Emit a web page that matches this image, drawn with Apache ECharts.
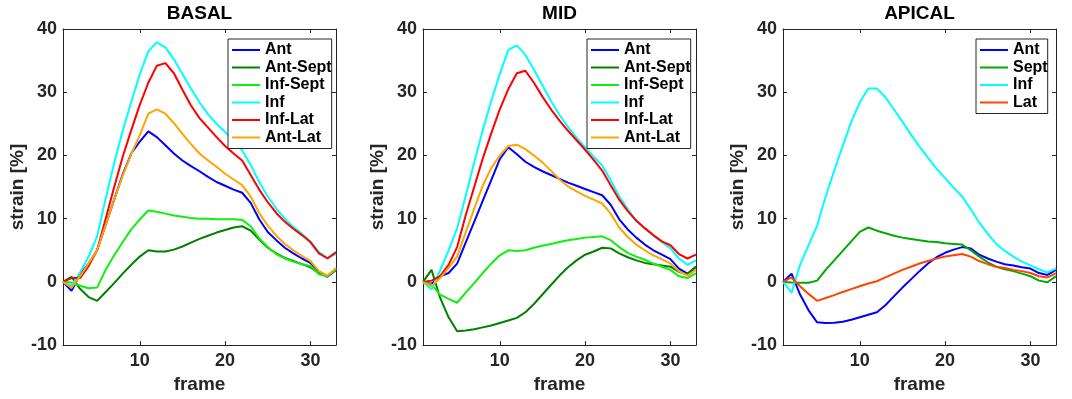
<!DOCTYPE html>
<html>
<head>
<meta charset="utf-8">
<title>strain per segment</title>
<script src="https://cdn.jsdelivr.net/npm/echarts@6.0.0/dist/echarts.min.js"></script>
<style>
  html, body { margin: 0; padding: 0; background: #fff; }
  #chart { width: 1072px; height: 399px; }
</style>
</head>
<body>
<div id="chart"></div>
<script>
// frames on the x axis
const frames = [1, 2, 3, 4, 5, 6, 7, 8, 9, 10, 11, 12, 13, 14, 15, 16, 17, 18, 19, 20, 21, 22, 23, 24, 25, 26, 27, 28, 29, 30, 31, 32, 33]
const xTicks = [10, 20, 30]

// BASAL
const basalAnt = [0, -1.4, 1.2, 2.9, 5.0, 9.0, 13.0, 17.0, 20.3, 22.2, 23.8, 22.9, 21.6, 20.3, 19.2, 18.3, 17.5, 16.6, 15.8, 15.2, 14.6, 14.1, 12.5, 9.9, 7.9, 6.6, 5.4, 4.5, 3.7, 3.0, 1.5, 0.8, 1.9]
const basalAntSept = [0, 0.8, -1.1, -2.4, -3.0, -1.6, -0.2, 1.3, 2.7, 4.0, 5.0, 4.8, 4.8, 5.1, 5.6, 6.2, 6.8, 7.3, 7.8, 8.2, 8.6, 8.8, 8.1, 6.7, 5.4, 4.5, 3.8, 3.3, 2.8, 2.3, 1.4, 0.9, 2.0]
const basalInfSept = [0, -0.1, -0.6, -1.0, -0.9, 1.9, 4.2, 6.3, 8.3, 9.9, 11.3, 11.1, 10.8, 10.5, 10.3, 10.1, 10.0, 10.0, 9.9, 9.9, 9.9, 9.8, 8.8, 6.9, 5.5, 4.4, 3.7, 3.2, 2.8, 2.5, 1.2, 0.9, 2.0]
const basalInf = [0, -0.6, 1.5, 4.0, 7.2, 13.2, 18.8, 23.9, 28.5, 32.8, 36.5, 37.9, 37.1, 35.2, 32.9, 30.6, 28.4, 26.5, 25.0, 23.7, 22.3, 20.8, 18.5, 15.8, 13.5, 11.6, 10.0, 8.7, 7.6, 6.4, 4.7, 3.8, 4.4]
const basalInfLat = [0, 0.6, 0.6, 2.5, 5.0, 10.0, 15.0, 19.8, 24.0, 28.0, 31.5, 34.2, 34.6, 33.0, 30.4, 27.9, 25.9, 24.4, 22.9, 21.5, 20.3, 19.2, 16.9, 14.6, 12.6, 10.9, 9.5, 8.4, 7.4, 6.3, 4.5, 3.7, 4.7]
const basalAntLat = [0, -0.9, 0.9, 2.9, 5.0, 9.0, 13.0, 16.8, 20.2, 23.2, 26.6, 27.3, 26.6, 25.1, 23.4, 21.8, 20.3, 19.2, 18.2, 17.1, 16.2, 15.3, 13.5, 10.9, 8.9, 7.3, 6.0, 5.0, 4.1, 3.3, 1.7, 1.0, 2.2]

// MID
const midAnt = [0, -0.3, 0.9, 1.4, 2.9, 6.2, 9.5, 12.8, 16.1, 19.4, 21.3, 20.2, 19.0, 18.2, 17.5, 16.9, 16.3, 15.7, 15.2, 14.7, 14.2, 13.7, 12.2, 9.9, 8.3, 7.0, 5.9, 5.0, 4.3, 3.6, 2.1, 1.3, 2.4]
const midAntSept = [0, 1.9, -2.5, -5.6, -7.8, -7.7, -7.5, -7.2, -6.9, -6.5, -6.1, -5.7, -4.8, -3.5, -2.0, -0.5, 1.0, 2.3, 3.4, 4.3, 4.8, 5.4, 5.3, 4.5, 3.9, 3.4, 3.0, 2.8, 2.6, 2.4, 1.6, 1.2, 2.4]
const midInfSept = [0, -0.4, -2.0, -2.7, -3.3, -1.7, -0.2, 1.4, 2.9, 4.2, 5.0, 4.9, 5.0, 5.4, 5.7, 6.0, 6.3, 6.6, 6.8, 7.0, 7.1, 7.2, 6.6, 5.5, 4.6, 4.0, 3.5, 2.9, 2.4, 1.9, 0.9, 0.6, 1.4]
const midInf = [0, -1.2, 1.8, 5.0, 8.5, 13.6, 18.9, 24.0, 28.6, 32.9, 36.7, 37.4, 35.9, 33.6, 31.1, 28.6, 26.4, 24.5, 22.8, 21.3, 19.8, 18.4, 16.1, 13.5, 11.5, 9.6, 8.4, 7.3, 6.3, 5.3, 3.7, 2.7, 3.4]
const midInfLat = [0, 0.2, 0.9, 2.7, 5.5, 10.5, 15.0, 19.5, 23.5, 27.3, 30.5, 33.0, 33.4, 31.5, 29.3, 27.3, 25.5, 23.9, 22.4, 20.9, 19.3, 17.6, 15.3, 13.0, 11.2, 9.7, 8.5, 7.4, 6.4, 5.8, 4.4, 3.7, 4.3]
const midAntLat = [0, -0.7, 0.6, 2.2, 4.0, 7.8, 11.6, 15.2, 18.0, 20.0, 21.5, 21.7, 21.0, 20.0, 18.9, 17.6, 16.2, 15.1, 14.3, 13.6, 13.0, 12.4, 10.8, 8.6, 7.1, 5.9, 5.0, 4.2, 3.6, 2.9, 1.7, 1.0, 1.9]

// APICAL
const apicalAnt = [0, 1.3, -2.0, -4.5, -6.4, -6.5, -6.45, -6.3, -6.0, -5.6, -5.2, -4.8, -3.7, -2.3, -0.9, 0.4, 1.7, 2.9, 3.9, 4.6, 5.1, 5.5, 5.3, 4.3, 3.7, 3.2, 2.8, 2.6, 2.3, 2.1, 1.4, 1.1, 1.9]
const apicalSept = [0, -0.1, -0.15, -0.15, 0.2, 1.9, 3.4, 4.9, 6.4, 7.9, 8.6, 8.1, 7.7, 7.3, 7.0, 6.8, 6.6, 6.4, 6.3, 6.1, 6.0, 5.9, 5.0, 4.0, 3.1, 2.4, 2.0, 1.7, 1.3, 0.9, 0.2, -0.05, 0.9]
const apicalInf = [0, -1.7, 2.7, 5.8, 8.9, 13.5, 17.6, 21.5, 25.3, 28.4, 30.6, 30.6, 29.2, 27.3, 25.3, 23.3, 21.4, 19.6, 17.9, 16.4, 14.9, 13.5, 11.5, 9.4, 7.6, 6.0, 4.9, 4.0, 3.2, 2.6, 2.0, 1.5, 2.1]
const apicalLat = [0, 0.7, -0.7, -1.9, -3.0, -2.55, -2.1, -1.6, -1.15, -0.7, -0.25, 0.1, 0.7, 1.3, 1.9, 2.4, 2.9, 3.3, 3.7, 4.0, 4.2, 4.4, 4.0, 3.3, 2.8, 2.4, 2.2, 1.9, 1.7, 1.4, 0.9, 0.7, 1.4]

const FONT = '"Liberation Sans", Arial, Helvetica, sans-serif'
const AXIS_COLOR = '#262626'

// 每个子图的位置和曲线
const panels = [
  {
    title: 'BASAL', left: 63, legendLeft: 228,
    lines: [
      { name: 'Ant', color: '#0000ff', values: basalAnt },
      { name: 'Ant-Sept', color: '#008000', values: basalAntSept },
      { name: 'Inf-Sept', color: '#11ee11', values: basalInfSept },
      { name: 'Inf', color: '#00ffff', values: basalInf },
      { name: 'Inf-Lat', color: '#ff0000', values: basalInfLat },
      { name: 'Ant-Lat', color: '#ffa500', values: basalAntLat }
    ]
  },
  {
    title: 'MID', left: 423, legendLeft: 587,
    lines: [
      { name: 'Ant', color: '#0000ff', values: midAnt },
      { name: 'Ant-Sept', color: '#008000', values: midAntSept },
      { name: 'Inf-Sept', color: '#11ee11', values: midInfSept },
      { name: 'Inf', color: '#00ffff', values: midInf },
      { name: 'Inf-Lat', color: '#ff0000', values: midInfLat },
      { name: 'Ant-Lat', color: '#ffa500', values: midAntLat }
    ]
  },
  {
    title: 'APICAL', left: 783, legendLeft: 976,
    lines: [
      { name: 'Ant', color: '#0000ff', values: apicalAnt },
      { name: 'Sept', color: '#00aa00', values: apicalSept },
      { name: 'Inf', color: '#00ffff', values: apicalInf },
      { name: 'Lat', color: '#ff4500', values: apicalLat }
    ]
  }
]

const GRID_W = 273
const GRID_TOP = 29
const GRID_H = 323

const tickStyle = { inside: true, length: 4, lineStyle: { color: AXIS_COLOR, width: 1 } }
const axisLine = { show: true, onZero: false, lineStyle: { color: AXIS_COLOR, width: 1 } }

const option = {
  animation: false,
  backgroundColor: '#fff',
  textStyle: { fontFamily: FONT },
  title: [],
  grid: [],
  xAxis: [],
  yAxis: [],
  legend: [],
  series: []
}

panels.forEach((p, i) => {
  option.title.push({
    text: p.title,
    left: p.left + GRID_W / 2,
    textAlign: 'center',
    top: 4,
    padding: 0,
    textStyle: { fontSize: 19, fontWeight: 'bold', color: '#000', fontFamily: FONT }
  })

  option.grid.push({ left: p.left, top: GRID_TOP, width: GRID_W, height: GRID_H, containLabel: false })

  // 下方和上方 x 轴
  option.xAxis.push({
    type: 'value', gridIndex: i, position: 'bottom', min: 1, max: 33,
    axisLine: axisLine,
    axisTick: { ...tickStyle, customValues: xTicks },
    axisLabel: { customValues: xTicks, fontSize: 18, fontWeight: 'bold', color: AXIS_COLOR, margin: 7, fontFamily: FONT },
    splitLine: { show: false },
    name: 'frame', nameLocation: 'middle', nameGap: 28,
    nameTextStyle: { fontSize: 19, fontWeight: 'bold', color: AXIS_COLOR, fontFamily: FONT }
  })
  option.xAxis.push({
    type: 'value', gridIndex: i, position: 'top', min: 1, max: 33,
    axisLine: axisLine,
    axisTick: { ...tickStyle, customValues: xTicks },
    axisLabel: { show: false },
    splitLine: { show: false }
  })

  // 左侧和右侧 y 轴
  option.yAxis.push({
    type: 'value', gridIndex: i, position: 'left', min: -10, max: 40, interval: 10,
    axisLine: axisLine,
    axisTick: tickStyle,
    axisLabel: { fontSize: 18, fontWeight: 'bold', color: AXIS_COLOR, margin: 6, fontFamily: FONT },
    splitLine: { show: false },
    name: 'strain [%]', nameLocation: 'middle', nameGap: 31,
    nameTextStyle: { fontSize: 19, fontWeight: 'bold', color: AXIS_COLOR, fontFamily: FONT }
  })
  option.yAxis.push({
    type: 'value', gridIndex: i, position: 'right', min: -10, max: 40, interval: 10,
    axisLine: axisLine,
    axisTick: tickStyle,
    axisLabel: { show: false },
    splitLine: { show: false }
  })

  option.legend.push({
    orient: 'vertical',
    left: p.legendLeft,
    top: 39,
    data: p.lines.map(l => l.name),
    icon: 'rect',
    itemWidth: 28,
    itemHeight: 2,
    itemGap: 1.5,
    padding: [3, 0, 3, 4],
    borderColor: '#262626',
    borderWidth: 1,
    backgroundColor: '#fff',
    selectedMode: false,
    textStyle: { fontSize: 16, fontWeight: 'bold', color: '#000', fontFamily: FONT }
  })

  p.lines.forEach(l => {
    option.series.push({
      name: l.name,
      type: 'line',
      xAxisIndex: i * 2,
      yAxisIndex: i * 2,
      symbol: 'none',
      color: l.color,
      lineStyle: { color: l.color, width: 2 },
      data: frames.map((f, k) => [f, l.values[k]])
    })
  })
})

const chart = echarts.init(document.getElementById('chart'))
chart.setOption(option)
</script>
</body>
</html>
